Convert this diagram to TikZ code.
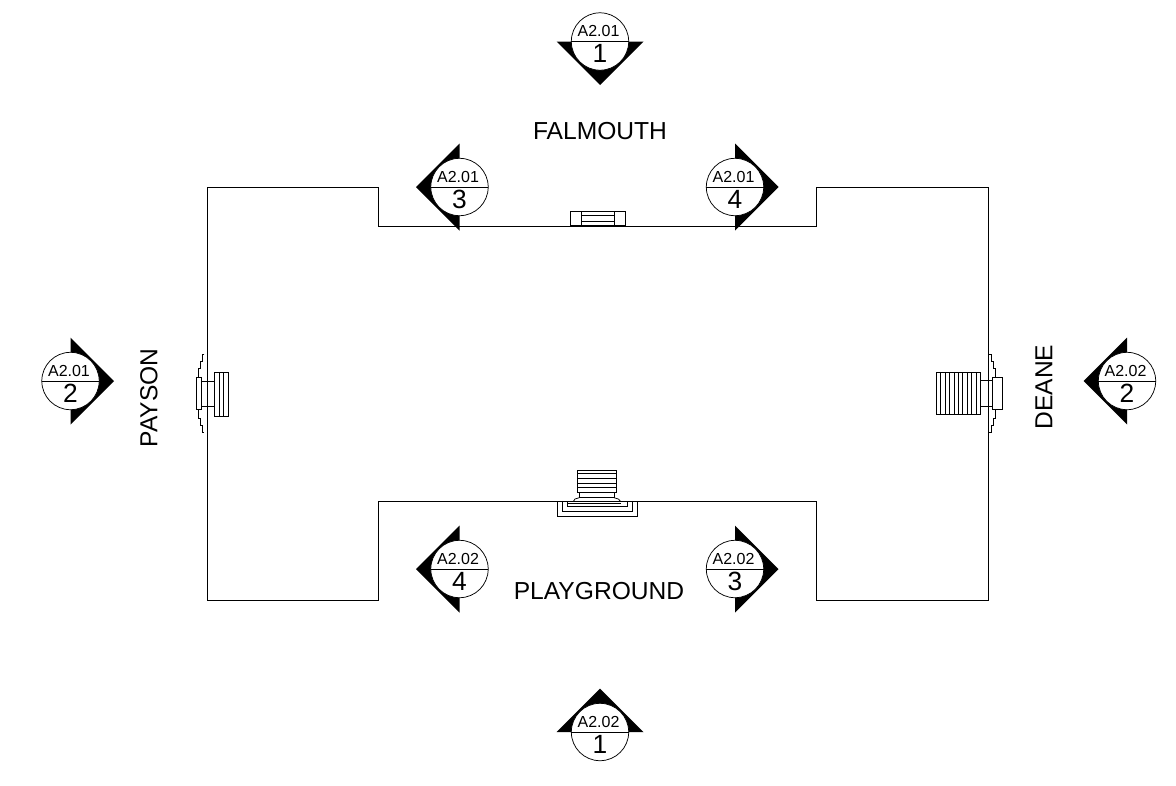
\documentclass[tikz,border=0pt]{standalone}
\usepackage{fontspec}
\setmainfont{Liberation Sans}
\tikzset{
    wall/.style={line width=.42pt,line join=miter},
    tread/.style={line width=.42pt},
    sheetlabel/.style={inner sep=0pt,font=\fontsize{9.1}{10}\selectfont},
    numlabel/.style={inner sep=0pt,font=\fontsize{15}{17}\selectfont},
    sidelabel/.style={inner sep=0pt,font=\fontsize{14}{16}\selectfont}
}
\begin{document}
\begin{tikzpicture}[x=.02cm,y=-.02cm]
                \useasboundingbox (0,0) rectangle (1176,785);
                % building outline
                \draw[wall] (207.5,187.5)--(378.5,187.5)--(378.5,226)--(816.5,226)--(816.5,187.5)--(988.5,187.5)--(988.5,600.5)--(816.5,600.5)--(816.5,501.5)--(378.5,501.5)--(378.5,600.5)--(207.5,600.5)--cycle;
                % falmouth steps
                \draw[tread] (570,225.7) rectangle (625.7,211) (581.3,211)--(581.3,225.7) (614.3,211)--(614.3,225.7);
                \draw[tread] (581.3,215.7)--(614.3,215.7) (581.3,221)--(614.3,221);
                % playground steps
                \draw[tread] (577.3,470) rectangle (616.3,492.3);
                \foreach \y in {473.7,478.3,483,487.7} \draw[tread] (577.3,\y)--(616.3,\y);
                \draw[tread] (579.3,492.3)--(579.3,497.7)--(614,497.7)--(614,492.3);
                \draw[tread] (573.3,501.5)--(575,499)--(579.3,497.7) (614,497.7)--(618.3,499)--(620.7,501.5);
                \draw[tread] (567.3,501.5)--(567.3,506.7)--(627.3,506.7)--(627.3,501.5);
                \draw[tread] (562.3,501.5)--(562.3,511)--(632.7,511)--(632.7,501.5);
                \draw[tread] (557.3,501.5)--(557.3,516.3)--(637.3,516.3)--(637.3,501.5);
                \draw[tread] (567.3,503.3)--(620.7,503.3);
                % payson steps
                \draw[tread] (204.3,354)--(202.7,354)--(202.7,361.7)--(200.7,361.7)--(200.7,368.3)--(198.3,368.3)--(198.3,377.7)--(196.7,377.7)--(196.7,409.3)--(198.3,409.3)--(198.3,418.3)--(200.7,418.3)--(200.7,425)--(202.7,425)--(202.7,432.3)--(204.3,432.3);
                \draw[tread] (198.3,377.7)--(201.7,377.7)--(201.7,409.3)--(198.3,409.3);
                \draw[tread] (201.7,381)--(214.3,381) (201.7,406.3)--(214.3,406.3);
                \draw[tread] (214.3,372.3) rectangle (228.3,416.7);
                \draw[tread] (219,372.3)--(219,416.7) (223.7,372.3)--(223.7,416.7);
                % deane steps
                \draw[tread] (989.3,354)--(991,354)--(991,361.7)--(993,361.7)--(993,368.3)--(995.3,368.3)--(995.3,377.7) (995.3,409.3)--(995.3,418.3)--(993,418.3)--(993,425)--(991,425)--(991,432.3)--(989.3,432.3);
                \draw[tread] (992.3,377.7) rectangle (1002,409.3);
                \draw[tread] (980.3,380.7)--(992.3,380.7) (980.3,406.3)--(992.3,406.3);
                \draw[tread] (936.3,372.3) rectangle (980.3,414.7);
                \foreach \i in {1,...,9} \draw[tread] (936.3+4.4*\i,372.3)--(936.3+4.4*\i,414.7);
                % elevation markers
                \foreach \cx/\cy/\dx/\dy/\sheet/\num/\tag in {600/41.5/0/1/A2.01/1/a, 459.5/187/-1/0/A2.01/3/b, 735/187/1/0/A2.01/4/c, 70.5/381/1/0/A2.01/2/d, 1127/381/-1/0/A2.02/2/e, 459.5/569/-1/0/A2.02/4/f, 735/569/1/0/A2.02/3/g, 600/732/0/-1/A2.02/1/h}{
                    \fill (\cx+43.5*\dx,\cy+43.5*\dy)--(\cx+43.5*\dy,\cy+43.5*\dx)--(\cx-43.5*\dy,\cy-43.5*\dx)--cycle;
                    \draw[wall,fill=white] (\cx,\cy) circle (28.7);
                    \draw[wall] (\cx-28.7,\cy)--(\cx+28.7,\cy);
                    \node[sheetlabel] (sheet\tag) at (\cx-1.5,\cy-10.5) {\sheet};
                    \node[numlabel] (num\tag) at (\cx,\cy+12) {\num};
                }
                % elevation names
                \node[sidelabel] (falmouth) at (600,131) {FALMOUTH};
                \node[sidelabel] (playground) at (599,591) {PLAYGROUND};
                \node[sidelabel,rotate=90] (payson) at (149,398) {PAYSON};
                \node[sidelabel,rotate=90] (deane) at (1044,387) {DEANE};
            \end{tikzpicture}
\end{document}
